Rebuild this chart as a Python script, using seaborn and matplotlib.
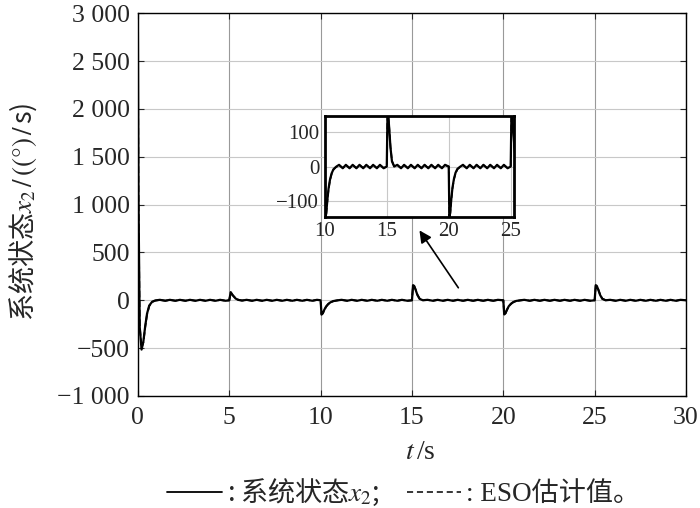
import matplotlib
matplotlib.use("Agg")
import matplotlib.pyplot as plt
import seaborn as sns

sns.set_style("ticks")
plt.rcParams['font.family'] = ['Liberation Serif', 'Noto Sans CJK SC']
plt.rcParams['mathtext.fontset'] = 'stix'
plt.rcParams['axes.unicode_minus'] = True

# time axis (s)
t = [0, 0.03, 0.1, 0.2, 0.3, 0.4, 0.5, 0.62, 0.78, 0.95,
     1.2, 1.5, 1.75, 2.05, 2.3, 2.6, 2.85, 3.15, 3.4, 3.7, 3.95, 4.25, 4.5, 4.8, 5.0,
     5.08, 5.2, 5.35, 5.5, 5.7,
     5.95, 6.25, 6.5, 6.8, 7.05, 7.35, 7.6, 7.9, 8.15, 8.45, 8.7, 9.0, 9.25, 9.55, 9.8, 10.0,
     10.05, 10.12, 10.2, 10.3, 10.42, 10.55, 10.7, 10.9,
     11.15, 11.45, 11.7, 12.0, 12.25, 12.55, 12.8, 13.1, 13.35, 13.65, 13.9, 14.2, 14.45, 14.75, 15.0,
     15.06, 15.12, 15.2, 15.3, 15.42, 15.6,
     15.85, 16.15, 16.4, 16.7, 16.95, 17.25, 17.5, 17.8, 18.05, 18.35, 18.6, 18.9, 19.15, 19.45, 19.7, 20.0,
     20.05, 20.12, 20.2, 20.3, 20.42, 20.55, 20.7, 20.9,
     21.15, 21.45, 21.7, 22.0, 22.25, 22.55, 22.8, 23.1, 23.35, 23.65, 23.9, 24.2, 24.45, 24.75, 25.0,
     25.06, 25.12, 25.2, 25.3, 25.42, 25.6,
     25.85, 26.15, 26.4, 26.7, 26.95, 27.25, 27.5, 27.8, 28.05, 28.35, 28.6, 28.9, 29.15, 29.45, 29.7, 30.0]

# system state x2 ((°)/s)
x2 = [2800, 1100, -280, -515, -430, -270, -140, -55, -15, -2,
      5, -5, 5, -5, 5, -5, 5, -5, 5, -5, 5, -5, 5, -5, 0,
      85, 50, 18, 4, -3,
      5, -5, 5, -5, 5, -5, 5, -5, 5, -5, 5, -5, 5, -5, 5, 0,
      -150, -135, -100, -65, -38, -20, -8, -1,
      5, -5, 5, -5, 5, -5, 5, -5, 5, -5, 5, -5, 5, -5, 0,
      158, 150, 110, 55, 15, 0,
      5, -5, 5, -5, 5, -5, 5, -5, 5, -5, 5, -5, 5, -5, 5, 0,
      -148, -135, -98, -62, -36, -18, -7, -1,
      5, -5, 5, -5, 5, -5, 5, -5, 5, -5, 5, -5, 5, -5, 0,
      158, 150, 110, 55, 15, 0,
      5, -5, 5, -5, 5, -5, 5, -5, 5, -5, 5, -5, 5, -5, 5, 0]

# ESO estimate
eso = [2700, 1050, -260, -500, -440, -280, -150, -60, -18, -3,
       4, -4, 4, -4, 4, -4, 4, -4, 4, -4, 4, -4, 4, -4, 0,
       80, 52, 20, 5, -2,
       4, -4, 4, -4, 4, -4, 4, -4, 4, -4, 4, -4, 4, -4, 4, 0,
       -145, -138, -104, -68, -40, -22, -9, -2,
       4, -4, 4, -4, 4, -4, 4, -4, 4, -4, 4, -4, 4, -4, 0,
       152, 151, 114, 58, 17, 1,
       4, -4, 4, -4, 4, -4, 4, -4, 4, -4, 4, -4, 4, -4, 4, 0,
       -143, -137, -101, -65, -38, -20, -8, -2,
       4, -4, 4, -4, 4, -4, 4, -4, 4, -4, 4, -4, 4, -4, 0,
       152, 151, 114, 58, 17, 1,
       4, -4, 4, -4, 4, -4, 4, -4, 4, -4, 4, -4, 4, -4, 4, 0]

x_ticks = [0, 5, 10, 15, 20, 25, 30]
y_ticks = [-1000, -500, 0, 500, 1000, 1500, 2000, 2500, 3000]
y_labels = ['\u22121 000', '\u2212500', '0', '500', '1 000', '1 500', '2 000', '2 500', '3 000']
inset_x_ticks = [10, 15, 20, 25]
inset_y_ticks = [-100, 0, 100]
inset_y_labels = ['\u2212100', '0', '100']

fig = plt.figure(figsize=(7, 5.08), dpi=100)
ax = fig.add_axes([0.197, 0.2205, 0.783, 0.7535])

sns.lineplot(x=t, y=x2, ax=ax, color='black', lw=1.6, estimator=None)
sns.lineplot(x=t, y=eso, ax=ax, color='black', lw=1.3, linestyle='--', estimator=None)

ax.set_xlim(0, 30)
ax.set_ylim(-1000, 3000)
ax.set_xticks(x_ticks)
ax.set_yticks(y_ticks)
ax.set_yticklabels(y_labels)
ax.tick_params(direction='in', labelsize=18.5, top=True, right=True, length=4, width=0.8)
ax.tick_params(axis='x', pad=8)
ax.tick_params(axis='y', pad=6)
ax.xaxis.grid(True, color='#999999', lw=0.8)
ax.yaxis.grid(True, color='#c8c8c8', lw=0.8)
for s in ax.spines.values():
    s.set_linewidth(1.0)
    s.set_color('black')

ax.set_xlabel('$t\\,$/s', fontsize=20)
ax.xaxis.set_label_coords(0.515, -0.115)
ax.set_ylabel('系统状态$x_2\\,/\\,((°)\\,/\\,$s)', fontsize=19.5, family='Noto Sans CJK SC')
ax.yaxis.set_label_coords(-0.18, 0.48)

# inset zoom
axin = fig.add_axes([0.464, 0.573, 0.27, 0.199])
sns.lineplot(x=t, y=x2, ax=axin, color='black', lw=1.6, estimator=None)
sns.lineplot(x=t, y=eso, ax=axin, color='black', lw=1.2, linestyle='--', estimator=None)
axin.set_xlim(10, 25.25)
axin.set_ylim(-147, 148)
axin.set_xticks(inset_x_ticks)
axin.set_yticks(inset_y_ticks)
axin.set_yticklabels(inset_y_labels)
axin.tick_params(direction='in', labelsize=15, length=0, pad=4)
axin.grid(True, color='#c8c8c8', lw=0.8)
axin.set_facecolor('white')
for s in axin.spines.values():
    s.set_linewidth(2.0)
    s.set_color('black')

ax.annotate('', xy=(0.597, 0.551), xytext=(0.657, 0.429),
            xycoords='figure fraction', textcoords='figure fraction',
            arrowprops=dict(arrowstyle='-|>', color='black', lw=1.2, mutation_scale=18))

h1, = ax.plot([], [], color='black', lw=1.3)
h2, = ax.plot([], [], color='black', lw=1.1, linestyle=(0, (4, 2.5)))
leg = fig.legend([h1, h2], [': 系统状态$x_2$;', ': ESO估计值。'], loc='center',
                 bbox_to_anchor=(0.577, 0.03), ncol=2, frameon=False, fontsize=19.5,
                 handlelength=2.0, handletextpad=0.2, columnspacing=1.0)
leg.get_texts()[0].set_family('Noto Sans CJK SC')

fig.savefig('out.png', dpi=100)
